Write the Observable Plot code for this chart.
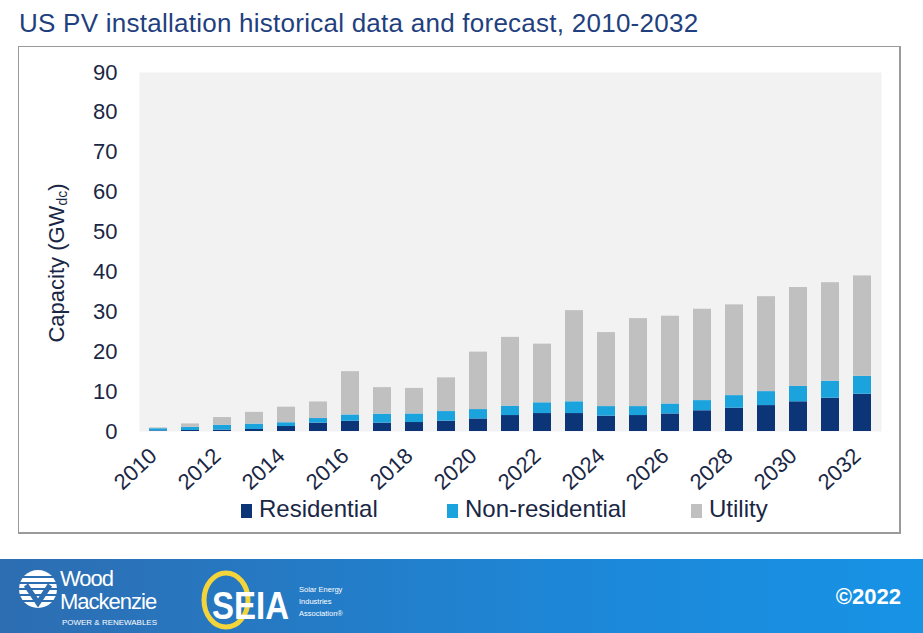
<!DOCTYPE html>
<html>
<head>
<meta charset="utf-8">
<script src="https://cdn.jsdelivr.net/npm/d3@7"></script>
<script src="https://cdn.jsdelivr.net/npm/@observablehq/plot@0.6"></script>
<style>
  html, body { margin: 0; padding: 0; background: #fff; }
  #root { position: relative; width: 923px; height: 633px; overflow: hidden; font-family: "Liberation Sans", Arial, sans-serif; }
  #title { position: absolute; left: 19px; top: 8px; font-size: 26px; letter-spacing: 0.25px; color: #1f3f7e; white-space: nowrap; }
  #frame { position: absolute; left: 18px; top: 46px; width: 880px; height: 485px; border-top: 1px solid #9a9a9a; border-left: 1px solid #9a9a9a; border-right: 2px solid #9a9a9a; border-bottom: 2px solid #9a9a9a; pointer-events: none; }
  #chart { position: absolute; left: 0; top: 0; }
  #ytitle { position: absolute; left: 57px; top: 263px; transform: translate(-50%, -50%) rotate(-90deg); font-size: 22px; color: #1a2744; white-space: nowrap; }
  #ytitle sub { font-size: 14px; vertical-align: -3px; }
  .leg { position: absolute; top: 495px; font-size: 24px; color: #1a2744; white-space: nowrap; display: flex; align-items: flex-end; }
  .leg i { display: inline-block; width: 11px; height: 14px; margin-right: 7px; margin-bottom: 5px; }
  #footer { position: absolute; left: 0; top: 559px; width: 923px; height: 74px; background: linear-gradient(to right, #2d6db1, #1e86d6 60%, #1793e6); color: #fff; }
  #copy { position: absolute; right: 22px; top: 25px; font-size: 22px; font-weight: bold; }
</style>
</head>
<body>
<div id="root">
  <div id="title">US PV installation historical data and forecast, 2010-2032</div>
  <div id="chart"></div>
  <div id="frame"></div>
  <div id="ytitle">Capacity (GW<sub>dc</sub>)</div>
  <div id="legend"></div>
  <div id="footer">
    <svg width="400" height="74" style="position:absolute;left:0;top:0">
      <g transform="translate(38,30)">
        <circle r="19" fill="#fff"/>
        <g stroke="#2d6db1" stroke-width="2.2">
          <line x1="-19" y1="-12" x2="19" y2="-12"/>
          <line x1="-19" y1="-6" x2="19" y2="-6"/>
          <line x1="-19" y1="0" x2="19" y2="0"/>
          <line x1="-19" y1="6" x2="19" y2="6"/>
          <line x1="-19" y1="12" x2="19" y2="12"/>
        </g>
        <path d="M-12,-4 L0,14 L12,-4" fill="none" stroke="#2d6db1" stroke-width="5"/>
      </g>
      <text x="60" y="27" fill="#fff" font-family="Liberation Sans, Arial" font-size="22" letter-spacing="-1">Wood</text>
      <text x="60" y="50" fill="#fff" font-family="Liberation Sans, Arial" font-size="22" letter-spacing="-1">Mackenzie</text>
      <text x="62" y="66" fill="#fff" font-family="Liberation Sans, Arial" font-size="8" textLength="95" lengthAdjust="spacingAndGlyphs">POWER &amp; RENEWABLES</text>
      <ellipse cx="226" cy="41" rx="22" ry="27" fill="none" stroke="#f3d43b" stroke-width="5"/>
      <g transform="translate(212,60) scale(1,1.2)">
        <text x="0" y="0" fill="#fff" font-family="Liberation Sans, Arial" font-size="33" font-weight="bold">SEIA</text>
      </g>
      <text x="299" y="33" fill="#fff" font-family="Liberation Sans, Arial" font-size="7.5">Solar Energy</text>
      <text x="299" y="45" fill="#fff" font-family="Liberation Sans, Arial" font-size="7.5">Industries</text>
      <text x="299" y="57" fill="#fff" font-family="Liberation Sans, Arial" font-size="7.5">Association®</text>
    </svg>
    <div id="copy">©2022</div>
  </div>
</div>
<script>
const years = d3.range(2010, 2033);
const seriesNames = ["Residential", "Non-residential", "Utility"];
const seriesColors = ["#0b3577", "#1ba3de", "#c0c0c0"];
const residential = [0.15, 0.25, 0.35, 0.5, 1.25, 2.1, 2.55, 2.1, 2.25, 2.6, 3.15, 4.0, 4.5, 4.5, 3.85, 4.0, 4.4, 5.2, 5.85, 6.5, 7.45, 8.35, 9.35];
const nonResidential = [0.55, 0.8, 1.2, 1.35, 0.95, 1.15, 1.6, 2.25, 2.15, 2.4, 2.35, 2.35, 2.7, 2.95, 2.4, 2.25, 2.5, 2.55, 3.15, 3.5, 3.85, 4.25, 4.5];
const utility = [0.2, 0.85, 1.95, 2.95, 3.9, 4.15, 10.85, 6.65, 6.4, 8.45, 14.4, 17.25, 14.7, 22.85, 18.55, 22.05, 22.0, 22.9, 22.75, 23.8, 24.8, 24.7, 25.15];
const yTicks = [0, 10, 20, 30, 40, 50, 60, 70, 80, 90];
const xTicks = years.filter(y => y % 2 === 0);

const seriesValues = [residential, nonResidential, utility];
const data = [];
years.forEach((yr, i) => {
  seriesNames.forEach((s, j) => data.push({year: yr, series: s, value: seriesValues[j][i]}));
});

const textColor = "#1a2744";
const chart = Plot.plot({
  width: 923,
  height: 500,
  marginLeft: 139,
  marginRight: 42,
  marginTop: 72,
  marginBottom: 69,
  style: {background: "transparent", fontFamily: "Liberation Sans, Arial, sans-serif", fontSize: "22px", color: textColor},
  x: {type: "band", domain: years, paddingInner: 0.425, paddingOuter: 0.22, label: null},
  y: {domain: [0, 90], label: null},
  color: {domain: seriesNames, range: seriesColors},
  marks: [
    Plot.frame({fill: "#f2f2f2", stroke: null}),
    Plot.barY(data, Plot.stackY({x: "year", y: "value", fill: "series", order: seriesNames})),
    Plot.axisY({ticks: yTicks, tickSize: 0, tickPadding: 22, label: null, fontSize: 22, fill: textColor}),
    Plot.axisX({ticks: xTicks, tickFormat: d => String(d), tickSize: 0, tickPadding: 21, tickRotate: -43, label: null, fontSize: 22, fill: textColor, dx: -5})
  ]
});
document.getElementById("chart").appendChild(chart);

const legendPos = [241, 447, 691];
const legend = document.getElementById("legend");
seriesNames.forEach((s, j) => {
  const d = document.createElement("div");
  d.className = "leg";
  d.style.left = legendPos[j] + "px";
  d.innerHTML = `<i style="background:${seriesColors[j]}"></i><span>${s}</span>`;
  legend.appendChild(d);
});
</script>
</body>
</html>
